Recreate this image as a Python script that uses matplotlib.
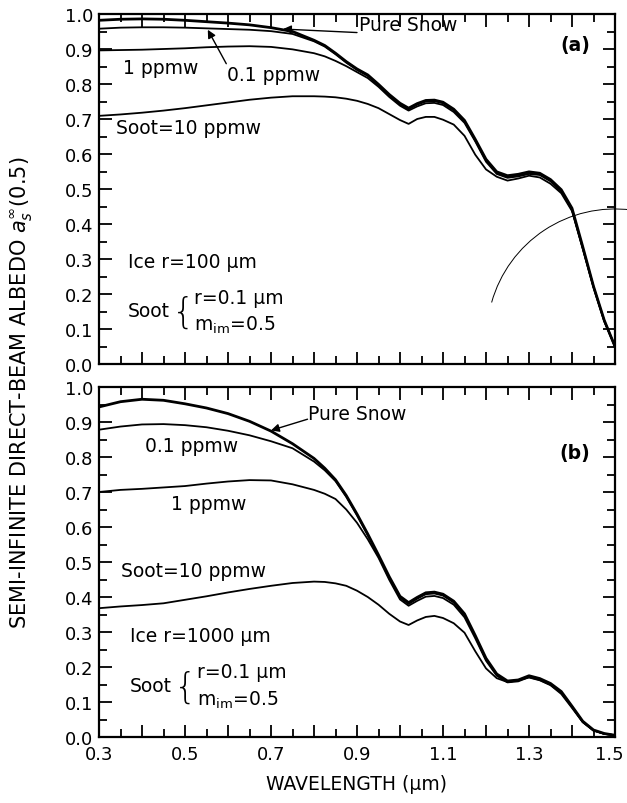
import matplotlib
matplotlib.use("Agg")
import matplotlib.pyplot as plt
import matplotlib.transforms as mtransforms
from matplotlib.patches import Arc
from matplotlib.ticker import MultipleLocator, FormatStrFormatter, FuncFormatter

plt.rcParams['font.family'] = ['DejaVu Sans']
plt.rcParams['mathtext.fontset'] = 'dejavusans'

# ---------------- data ----------------
wavelength = [0.30, 0.35, 0.40, 0.45, 0.50, 0.55, 0.60, 0.65, 0.70, 0.75,
              0.80, 0.825, 0.85, 0.875, 0.90, 0.925, 0.95, 0.975, 1.00, 1.02,
              1.04, 1.06, 1.08, 1.10, 1.125, 1.15, 1.175, 1.20, 1.225, 1.25,
              1.275, 1.30, 1.325, 1.35, 1.375, 1.40, 1.425, 1.45, 1.475, 1.50]

# panel (a): ice r = 100 um
a_pure = [0.982, 0.985, 0.986, 0.985, 0.982, 0.978, 0.974, 0.969, 0.961, 0.950,
          0.925, 0.910, 0.888, 0.864, 0.843, 0.826, 0.799, 0.770, 0.745, 0.731,
          0.744, 0.753, 0.754, 0.748, 0.728, 0.696, 0.642, 0.585, 0.549, 0.538,
          0.542, 0.549, 0.545, 0.527, 0.498, 0.445, 0.335, 0.222, 0.125, 0.050]
a_01 = [0.958, 0.961, 0.962, 0.962, 0.961, 0.959, 0.957, 0.955, 0.951, 0.943,
        0.922, 0.907, 0.885, 0.861, 0.840, 0.823, 0.796, 0.767, 0.742, 0.728,
        0.741, 0.750, 0.751, 0.745, 0.725, 0.693, 0.639, 0.582, 0.546, 0.535,
        0.539, 0.546, 0.542, 0.524, 0.495, 0.442, 0.333, 0.221, 0.124, 0.050]
a_1 = [0.896, 0.897, 0.898, 0.900, 0.902, 0.905, 0.907, 0.908, 0.906, 0.899,
       0.888, 0.879, 0.866, 0.851, 0.834, 0.817, 0.792, 0.763, 0.738, 0.724,
       0.736, 0.745, 0.746, 0.740, 0.720, 0.689, 0.636, 0.578, 0.543, 0.532,
       0.536, 0.543, 0.540, 0.522, 0.493, 0.440, 0.331, 0.220, 0.123, 0.050]
a_10 = [0.709, 0.713, 0.718, 0.724, 0.731, 0.739, 0.747, 0.755, 0.761, 0.765,
        0.765, 0.764, 0.762, 0.758, 0.752, 0.743, 0.731, 0.714, 0.697, 0.686,
        0.700, 0.706, 0.706, 0.698, 0.684, 0.652, 0.598, 0.556, 0.535, 0.524,
        0.530, 0.538, 0.533, 0.515, 0.488, 0.437, 0.329, 0.219, 0.122, 0.050]

# panel (b): ice r = 1000 um
b_pure = [0.943, 0.958, 0.965, 0.962, 0.952, 0.940, 0.924, 0.902, 0.874, 0.838,
          0.796, 0.768, 0.735, 0.690, 0.637, 0.580, 0.520, 0.458, 0.402, 0.384,
          0.399, 0.412, 0.414, 0.408, 0.388, 0.352, 0.290, 0.225, 0.180, 0.160,
          0.163, 0.175, 0.167, 0.153, 0.130, 0.088, 0.045, 0.020, 0.010, 0.005]
b_01 = [0.878, 0.887, 0.893, 0.894, 0.891, 0.885, 0.875, 0.862, 0.845, 0.825,
        0.787, 0.762, 0.731, 0.686, 0.633, 0.576, 0.516, 0.454, 0.398, 0.380,
        0.395, 0.408, 0.410, 0.404, 0.384, 0.348, 0.287, 0.222, 0.178, 0.158,
        0.161, 0.173, 0.165, 0.151, 0.128, 0.087, 0.044, 0.019, 0.009, 0.005]
b_1 = [0.700, 0.706, 0.709, 0.713, 0.717, 0.724, 0.730, 0.734, 0.733, 0.722,
       0.706, 0.695, 0.680, 0.650, 0.612, 0.565, 0.512, 0.449, 0.393, 0.375,
       0.389, 0.401, 0.403, 0.397, 0.378, 0.342, 0.282, 0.218, 0.175, 0.156,
       0.159, 0.171, 0.163, 0.149, 0.126, 0.086, 0.043, 0.019, 0.009, 0.005]
b_10 = [0.368, 0.373, 0.377, 0.382, 0.392, 0.402, 0.413, 0.423, 0.432, 0.440,
        0.444, 0.443, 0.439, 0.432, 0.418, 0.400, 0.378, 0.352, 0.330, 0.320,
        0.333, 0.343, 0.346, 0.340, 0.325, 0.298, 0.245, 0.196, 0.168, 0.157,
        0.162, 0.170, 0.162, 0.148, 0.123, 0.083, 0.042, 0.018, 0.009, 0.005]

x_labelled = ["0.3", "0.5", "0.7", "0.9", "1.1", "1.3", "1.5"]

# ---------------- figure ----------------
fig = plt.figure(figsize=(6.27, 8.04), dpi=100)
L, R = 99 / 627, 615 / 627
ax_a = fig.add_axes([L, 1 - 365 / 804, R - L, 350 / 804])
ax_b = fig.add_axes([L, 1 - 738 / 804, R - L, 350 / 804])

FS = 13.5


def xfmt(v, pos):
    s = "%.1f" % v
    return s if s in x_labelled else ""


def style(ax, show_x):
    ax.set_xlim(0.3, 1.5)
    ax.set_ylim(0.0, 1.0)
    ax.xaxis.set_major_locator(MultipleLocator(0.1))
    ax.xaxis.set_minor_locator(MultipleLocator(0.05))
    ax.yaxis.set_major_locator(MultipleLocator(0.1))
    ax.yaxis.set_minor_locator(MultipleLocator(0.05))
    ax.yaxis.set_major_formatter(FormatStrFormatter('%.1f'))
    ax.xaxis.set_major_formatter(FuncFormatter(xfmt))
    ax.tick_params(which='both', direction='in', top=True, right=True,
                   width=1.3, labelsize=13)
    ax.tick_params(which='major', length=9)
    ax.tick_params(which='minor', length=6)
    ax.tick_params(axis='y', pad=4)
    ax.tick_params(axis='x', pad=6)
    for s in ax.spines.values():
        s.set_linewidth(1.6)
    if not show_x:
        ax.tick_params(axis='x', labelbottom=False)


style(ax_a, False)
style(ax_b, True)

# keep the last tick label ("1.5") inside the figure
fig.canvas.draw()
for lab in ax_b.get_xticklabels():
    if lab.get_text() == "1.5":
        lab.set_transform(lab.get_transform() +
                          mtransforms.ScaledTranslation(-6 / 100, 0,
                                                        fig.dpi_scale_trans))

lw_thin = 1.3
lw_thick = 2.0
for ax, pure, c01, c1, c10 in [(ax_a, a_pure, a_01, a_1, a_10),
                               (ax_b, b_pure, b_01, b_1, b_10)]:
    ax.plot(wavelength, c10, color='k', lw=lw_thin)
    ax.plot(wavelength, c1, color='k', lw=lw_thin)
    ax.plot(wavelength, c01, color='k', lw=lw_thin)
    ax.plot(wavelength, pure, color='k', lw=lw_thick)

arrow = dict(arrowstyle='-|>', color='k', lw=1.0, mutation_scale=12,
             shrinkA=0, shrinkB=0)

# ---- panel (a) annotations ----
ax_a.text(0.905, 0.969, "Pure Snow", fontsize=FS, va='center', ha='left')
ax_a.annotate('', xy=(0.728, 0.957), xytext=(0.900, 0.947), arrowprops=arrow)
ax_a.text(1.407, 0.912, "(a)", fontsize=FS, va='center', ha='center',
          fontweight='bold')
ax_a.text(0.356, 0.846, "1 ppmw", fontsize=FS, va='center', ha='left')
ax_a.text(0.598, 0.826, "0.1 ppmw", fontsize=FS, va='center', ha='left')
ax_a.annotate('', xy=(0.553, 0.955), xytext=(0.596, 0.858), arrowprops=arrow)
ax_a.text(0.340, 0.676, "Soot=10 ppmw", fontsize=FS, va='center', ha='left')
ax_a.text(0.367, 0.293, "Ice r=100 \u00b5m", fontsize=FS, va='center', ha='left')
ax_a.text(0.367, 0.152, "Soot", fontsize=FS, va='center', ha='left')
ax_a.text(0.470, 0.150, "{", fontsize=26, va='center', ha='left',
          fontweight='light')
ax_a.text(0.522, 0.190, "r=0.1 \u00b5m", fontsize=FS, va='center', ha='left')
ax_a.text(0.522, 0.112, r"m$_{\mathregular{im}}$=0.5", fontsize=FS,
          va='center', ha='left')

# ---- panel (b) annotations ----
ax_b.text(0.787, 0.923, "Pure Snow", fontsize=FS, va='center', ha='left')
ax_b.annotate('', xy=(0.700, 0.876), xytext=(0.785, 0.908), arrowprops=arrow)
ax_b.text(1.407, 0.814, "(b)", fontsize=FS, va='center', ha='center',
          fontweight='bold')
ax_b.text(0.407, 0.834, "0.1 ppmw", fontsize=FS, va='center', ha='left')
ax_b.text(0.467, 0.666, "1 ppmw", fontsize=FS, va='center', ha='left')
ax_b.text(0.351, 0.477, "Soot=10 ppmw", fontsize=FS, va='center', ha='left')
ax_b.text(0.372, 0.291, "Ice r=1000 \u00b5m", fontsize=FS, va='center',
          ha='left')
ax_b.text(0.372, 0.146, "Soot", fontsize=FS, va='center', ha='left')
ax_b.text(0.475, 0.144, "{", fontsize=26, va='center', ha='left',
          fontweight='light')
ax_b.text(0.527, 0.186, "r=0.1 \u00b5m", fontsize=FS, va='center', ha='left')
ax_b.text(0.527, 0.108, r"m$_{\mathregular{im}}$=0.5", fontsize=FS,
          va='center', ha='left')

# thin arc artifact present in the scanned original
ax_a.add_patch(Arc((1.5, 0.077), 0.596, 0.732, theta1=84, theta2=161,
                   lw=0.7, color='k', clip_on=False))

fig.text(0.035, 0.511, r"SEMI-INFINITE DIRECT-BEAM ALBEDO $a_s^{\infty}$(0.5)",
         rotation=90, va='center', ha='center', fontsize=15)
fig.text(0.569, 0.024, "WAVELENGTH (\u00b5m)", va='center', ha='center',
         fontsize=13.5)

fig.savefig("out.png", dpi=100)
